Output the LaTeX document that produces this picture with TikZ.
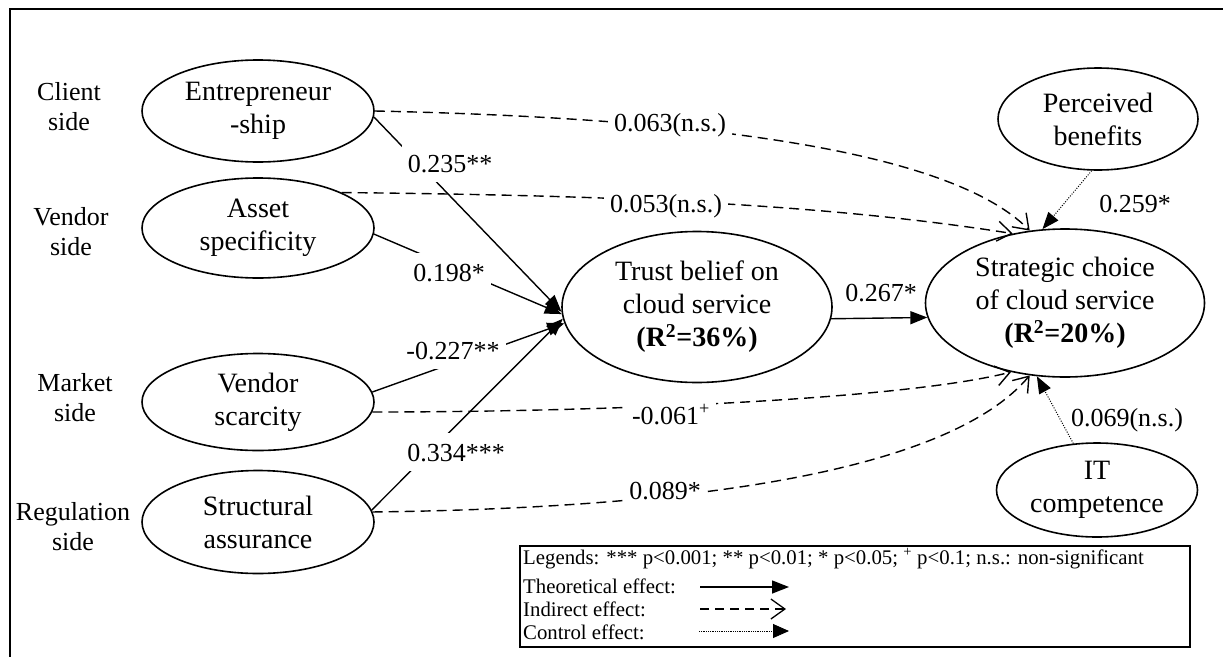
\documentclass[tikz,border=0pt]{standalone}
\usepackage{fontspec}
\setmainfont{Liberation Serif}
\usetikzlibrary{arrows.meta,shapes.geometric}
\begin{document}
\begin{tikzpicture}[x=1pt,y=-1pt,
  ell/.style={ellipse, draw, line width=1.6pt, inner sep=0pt, align=center, font=\fontsize{28}{33}\selectfont},
  side/.style={align=center, font=\fontsize{26}{30}\selectfont},
  lab/.style={font=\fontsize{26}{30}\selectfont, inner xsep=6pt, inner ysep=10pt, text height=18pt, text depth=0pt},
  labw/.style={lab, fill=white},
  legt/.style={font=\fontsize{20.8}{23}\selectfont, inner sep=0pt, text height=14pt, text depth=0pt, anchor=west},
  theo/.style={line width=1.4pt, -{Triangle[length=17pt,width=13pt]}},
  ind/.style={line width=1.4pt, dash pattern=on 10pt off 6pt, -{Straight Barb[length=14pt,width=20pt,line width=1.4pt]}},
  ctrl/.style={line width=1pt, dash pattern=on 1pt off 1.5pt, -{Triangle[length=17pt,width=13pt]}},
]
\useasboundingbox (0,0) rectangle (1223,656);
% frame
\draw[line width=2.6pt] (10,660) -- (10,9) -- (1230,9);

% ellipses
\node[ell, minimum width=232pt, minimum height=102pt] (ent) at (258,111) {Entrepreneur\\-ship};
\node[ell, minimum width=232pt, minimum height=100pt] (asset) at (258,228) {Asset\\specificity};
\node[ell, minimum width=232pt, minimum height=97pt] (scar) at (258,402) {Vendor\\scarcity};
\node[ell, minimum width=232pt, minimum height=103pt] (struc) at (258,522) {Structural\\assurance};
\node[ell, minimum width=270pt, minimum height=151pt] (trust) at (697,307) {Trust belief on\\cloud service\\\textbf{(R\textsuperscript{2}=36\%)}};
\node[ell, minimum width=279pt, minimum height=148pt] (strat) at (1065,303) {Strategic choice\\of cloud service\\\textbf{(R\textsuperscript{2}=20\%)}};
\node[ell, minimum width=200pt, minimum height=102pt] (pb) at (1098,119) {Perceived\\benefits};
\node[ell, minimum width=201pt, minimum height=94pt] (it) at (1097,490) {IT\\competence};

% side labels
\node[side] (cs) at (69,107) {Client\\side};
\node[side] (vs) at (71,232) {Vendor\\side};
\node[side] (ms) at (75,398) {Market\\side};
\node[side] (rs) at (73,527) {Regulation\\side};

% indirect effects
\draw[ind] (ent.east) .. controls (700,118) and (950,150) .. (strat.116);
\draw[ind] (asset.23) .. controls (560,195) and (800,200) .. (strat.127);
\draw[ind] (scar.-5) .. controls (600,412) and (900,400) .. (strat.232);
\draw[ind] (struc.5) .. controls (700,508) and (950,470) .. (strat.244);

% theoretical effects
\draw[theo] (ent.-3) -- (trust.182);
\draw[theo] (asset.-3) -- (trust.183);
\draw[theo] (scar.5) -- (trust.187);
\draw[theo] (struc.6) -- (trust.185);
\draw[theo] (trust.-5) -- (strat.186);

% control effects
\draw[ctrl] (pb.263) -- (strat.107);
\draw[ctrl] (it.117) -- (strat.249);

% labels
\node[labw] (l1) at (670,122) {0.063(n.s.)};
\node[labw] (l2) at (666,203) {0.053(n.s.)};
\node[labw] (l3) at (450,163) {0.235**};
\node[labw] (l4) at (449,272) {0.198*};
\node[labw] (l5) at (453,350) {-0.227**};
\node[labw] (l6) at (456,452) {0.334***};
\node[labw] (l7) at (671,415) {-0.061\textsuperscript{+}};
\node[labw] (l8) at (665,490) {0.089*};
\node[lab] (l9) at (881,292) {0.267*};
\node[lab] (l10) at (1135,203) {0.259*};
\node[lab] (l11) at (1127,417) {0.069(n.s.)};

% legend
\node[draw, line width=1.5pt, minimum width=670pt, minimum height=101pt, anchor=north west, inner sep=0pt] (leg) at (519,545) {};
\node[legt] (lg1) at (523,557) {Legends: *** p<0.001; ** p<0.01; * p<0.05; \textsuperscript{+} p<0.1; n.s.: non-significant};
\node[legt] (lg2) at (523,586) {Theoretical effect:};
\node[legt] (lg3) at (523,609) {Indirect effect:};
\node[legt] (lg4) at (523,632) {Control effect:};
\coordinate (a1s) at (700,587); \coordinate (a1e) at (789,587);
\coordinate (a2s) at (700,609); \coordinate (a2e) at (786,609);
\coordinate (a3s) at (699,631); \coordinate (a3e) at (789,631);
\draw[theo] (a1s) -- (a1e);
\draw[line width=1.3pt, dash pattern=on 9pt off 6pt, -{Straight Barb[length=14pt,width=20pt,line width=1.3pt]}] (a2s) -- (a2e);
\draw[line width=0.9pt, dash pattern=on 0.8pt off 1pt, -{Triangle[length=16pt,width=14pt]}] (a3s) -- (a3e);
\end{tikzpicture}
\end{document}
